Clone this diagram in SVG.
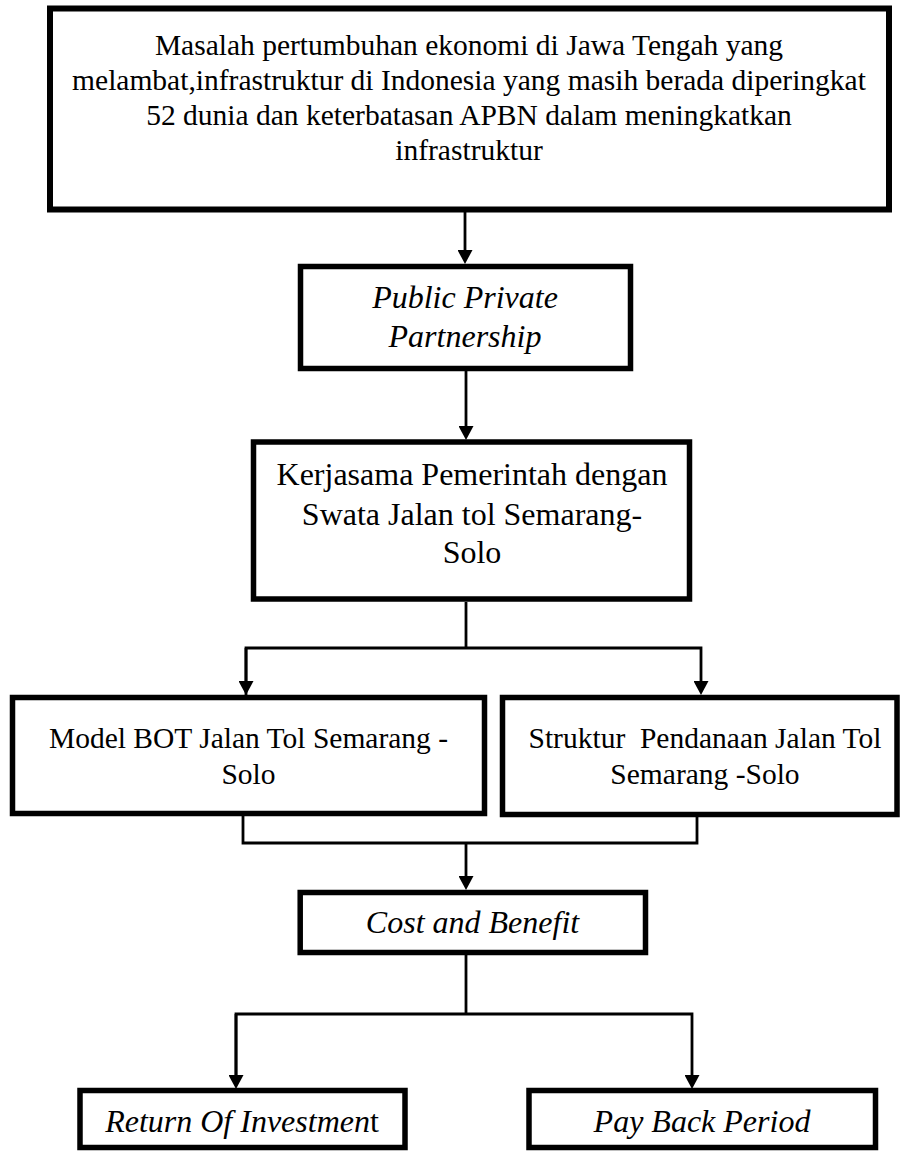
<svg xmlns="http://www.w3.org/2000/svg" width="900" height="1151" viewBox="0 0 900 1151">
<style>
.box{fill:#fff;stroke:#000;stroke-width:5.5}
.t{font-family:"Liberation Serif","Times New Roman",serif;fill:#000;text-anchor:middle}
.s29{font-size:29.5px}
.s32{font-size:32px}
.it{font-style:italic}
.c{fill:none;stroke:#000;stroke-width:2.8;stroke-linecap:butt;stroke-linejoin:miter}
</style>
<defs>
<marker id="ah" markerUnits="userSpaceOnUse" markerWidth="15" markerHeight="15" refX="4" refY="7.5" orient="auto">
<path d="M0,0 L14,7.5 L0,15 z" fill="#000"/>
</marker>
</defs>
<rect width="900" height="1151" fill="#fff"/>

<g id="connectors">
<path class="c" d="M465,212 V254" marker-end="url(#ah)"/>
<path class="c" d="M466,371 V430" marker-end="url(#ah)"/>
<path class="c" d="M466,602 V648"/>
<path class="c" d="M246,695 V648 H701 V685" marker-end="url(#ah)"/>
<path class="c" d="M246,648 V685" marker-end="url(#ah)"/>
<path class="c" d="M243,816 V843 H697 V817"/>
<path class="c" d="M466,843 V880" marker-end="url(#ah)"/>
<path class="c" d="M466,955 V1014"/>
<path class="c" d="M236,1079 V1014 H692 V1079" marker-end="url(#ah)"/>
<path class="c" d="M236,1014 V1079" marker-end="url(#ah)"/>
</g>

<g id="node-masalah">
<rect class="box" x="50" y="8.5" width="839" height="201" style="stroke-width:6"/>
<text class="t s29" x="469" y="55">Masalah pertumbuhan ekonomi di Jawa Tengah yang</text>
<text class="t s29" x="469" y="90">melambat,infrastruktur di Indonesia yang masih berada diperingkat</text>
<text class="t s29" x="469" y="125">52 dunia dan keterbatasan APBN dalam meningkatkan</text>
<text class="t s29" x="469" y="160">infrastruktur</text>
</g>

<g id="node-ppp">
<rect class="box" x="300.5" y="266.5" width="330" height="102"/>
<text class="t s32 it" x="465" y="308">Public Private</text>
<text class="t s32 it" x="465" y="347">Partnership</text>
</g>

<g id="node-kerjasama">
<rect class="box" x="253.5" y="442" width="436" height="157"/>
<text class="t s32" x="472" y="485">Kerjasama Pemerintah dengan</text>
<text class="t s32" x="472" y="525">Swata Jalan tol Semarang-</text>
<text class="t s32" x="472" y="563">Solo</text>
</g>

<g id="node-bot">
<rect class="box" x="12.5" y="697.5" width="472" height="116"/>
<text class="t s29" x="248.5" y="748">Model BOT Jalan Tol Semarang -</text>
<text class="t s29" x="248.5" y="784">Solo</text>
</g>

<g id="node-struktur">
<rect class="box" x="502.5" y="697.5" width="394.5" height="117"/>
<text class="t s29" x="705" y="748" xml:space="preserve">Struktur  Pendanaan Jalan Tol</text>
<text class="t s29" x="705" y="784">Semarang -Solo</text>
</g>

<g id="node-cost">
<rect class="box" x="300.2" y="892.5" width="345.3" height="60"/>
<text class="t s32 it" x="472.5" y="933">Cost and Benefit</text>
</g>

<g id="node-roi">
<rect class="box" x="80" y="1090.5" width="325" height="57"/>
<text class="t s32" x="242" y="1132"><tspan class="it">Return Of Investmen</tspan>t</text>
</g>

<g id="node-payback">
<rect class="box" x="529" y="1090.5" width="346.5" height="57"/>
<text class="t s32 it" x="702" y="1132">Pay Back Period</text>
</g>
</svg>
